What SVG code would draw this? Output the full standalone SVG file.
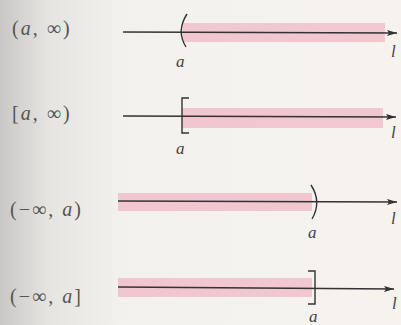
<svg xmlns="http://www.w3.org/2000/svg" width="401" height="325" viewBox="0 0 401 325">
<defs>
<linearGradient id="bg" x1="0" y1="0" x2="1" y2="0">
<stop offset="0" stop-color="#c9c8c6"/>
<stop offset="0.12" stop-color="#e6e4e1"/>
<stop offset="0.3" stop-color="#f3f1ee"/>
<stop offset="1" stop-color="#f6f3ef"/>
</linearGradient>
<marker id="arr" viewBox="0 0 10 6" refX="10" refY="3" markerWidth="10" markerHeight="6" markerUnits="userSpaceOnUse" orient="auto">
<path d="M0,0 L10,3 L0,6 L2,3 Z" fill="#333"/>
</marker>
</defs>
<style>
.lbl{font-family:"Liberation Serif",serif;font-size:20px;fill:#555;letter-spacing:2px}
.it{font-style:italic}
.band{fill:#f0bcc8;opacity:0.8}
.axis{stroke:#333;stroke-width:1.3;fill:none}
.end{stroke:#333;stroke-width:1.4;fill:none}
.pt{font-family:"Liberation Serif",serif;font-style:italic;font-size:17px;fill:#444}
</style>
<rect width="401" height="325" fill="url(#bg)"/>

<g id="row1">
<text class="lbl" x="12" y="35">(<tspan class="it">a</tspan>, ∞)</text>
<rect class="band" x="183" y="23" width="202" height="19"/>
<line class="axis" x1="123" y1="32" x2="397" y2="33" marker-end="url(#arr)"/>
<path class="end" d="M187,14 Q176,31 186,47"/>
<text class="pt" x="176" y="67">a</text>
<text class="pt" x="391" y="57">l</text>
</g>

<g id="row2">
<text class="lbl" x="12" y="120">[<tspan class="it">a</tspan>, ∞)</text>
<rect class="band" x="182" y="108" width="201" height="20"/>
<line class="axis" x1="123" y1="116" x2="396" y2="117" marker-end="url(#arr)"/>
<path class="end" d="M189,98 H182 V133 H189"/>
<text class="pt" x="176" y="154">a</text>
<text class="pt" x="391" y="138">l</text>
</g>

<g id="row3">
<text class="lbl" x="10" y="216">(−∞, <tspan class="it">a</tspan>)</text>
<rect class="band" x="118" y="193" width="194" height="18"/>
<line class="axis" x1="118" y1="201" x2="397" y2="202" marker-end="url(#arr)"/>
<path class="end" d="M311,185 Q322,202 312,219"/>
<text class="pt" x="308" y="238">a</text>
<text class="pt" x="391" y="224">l</text>
</g>

<g id="row4">
<text class="lbl" x="10" y="303">(−∞, <tspan class="it">a</tspan>]</text>
<rect class="band" x="118" y="278" width="194" height="19"/>
<line class="axis" x1="118" y1="287" x2="394" y2="289" marker-end="url(#arr)"/>
<path class="end" d="M308,271 H315 V304 H308"/>
<text class="pt" x="309" y="322">a</text>
<text class="pt" x="392" y="309">l</text>
</g>
</svg>
